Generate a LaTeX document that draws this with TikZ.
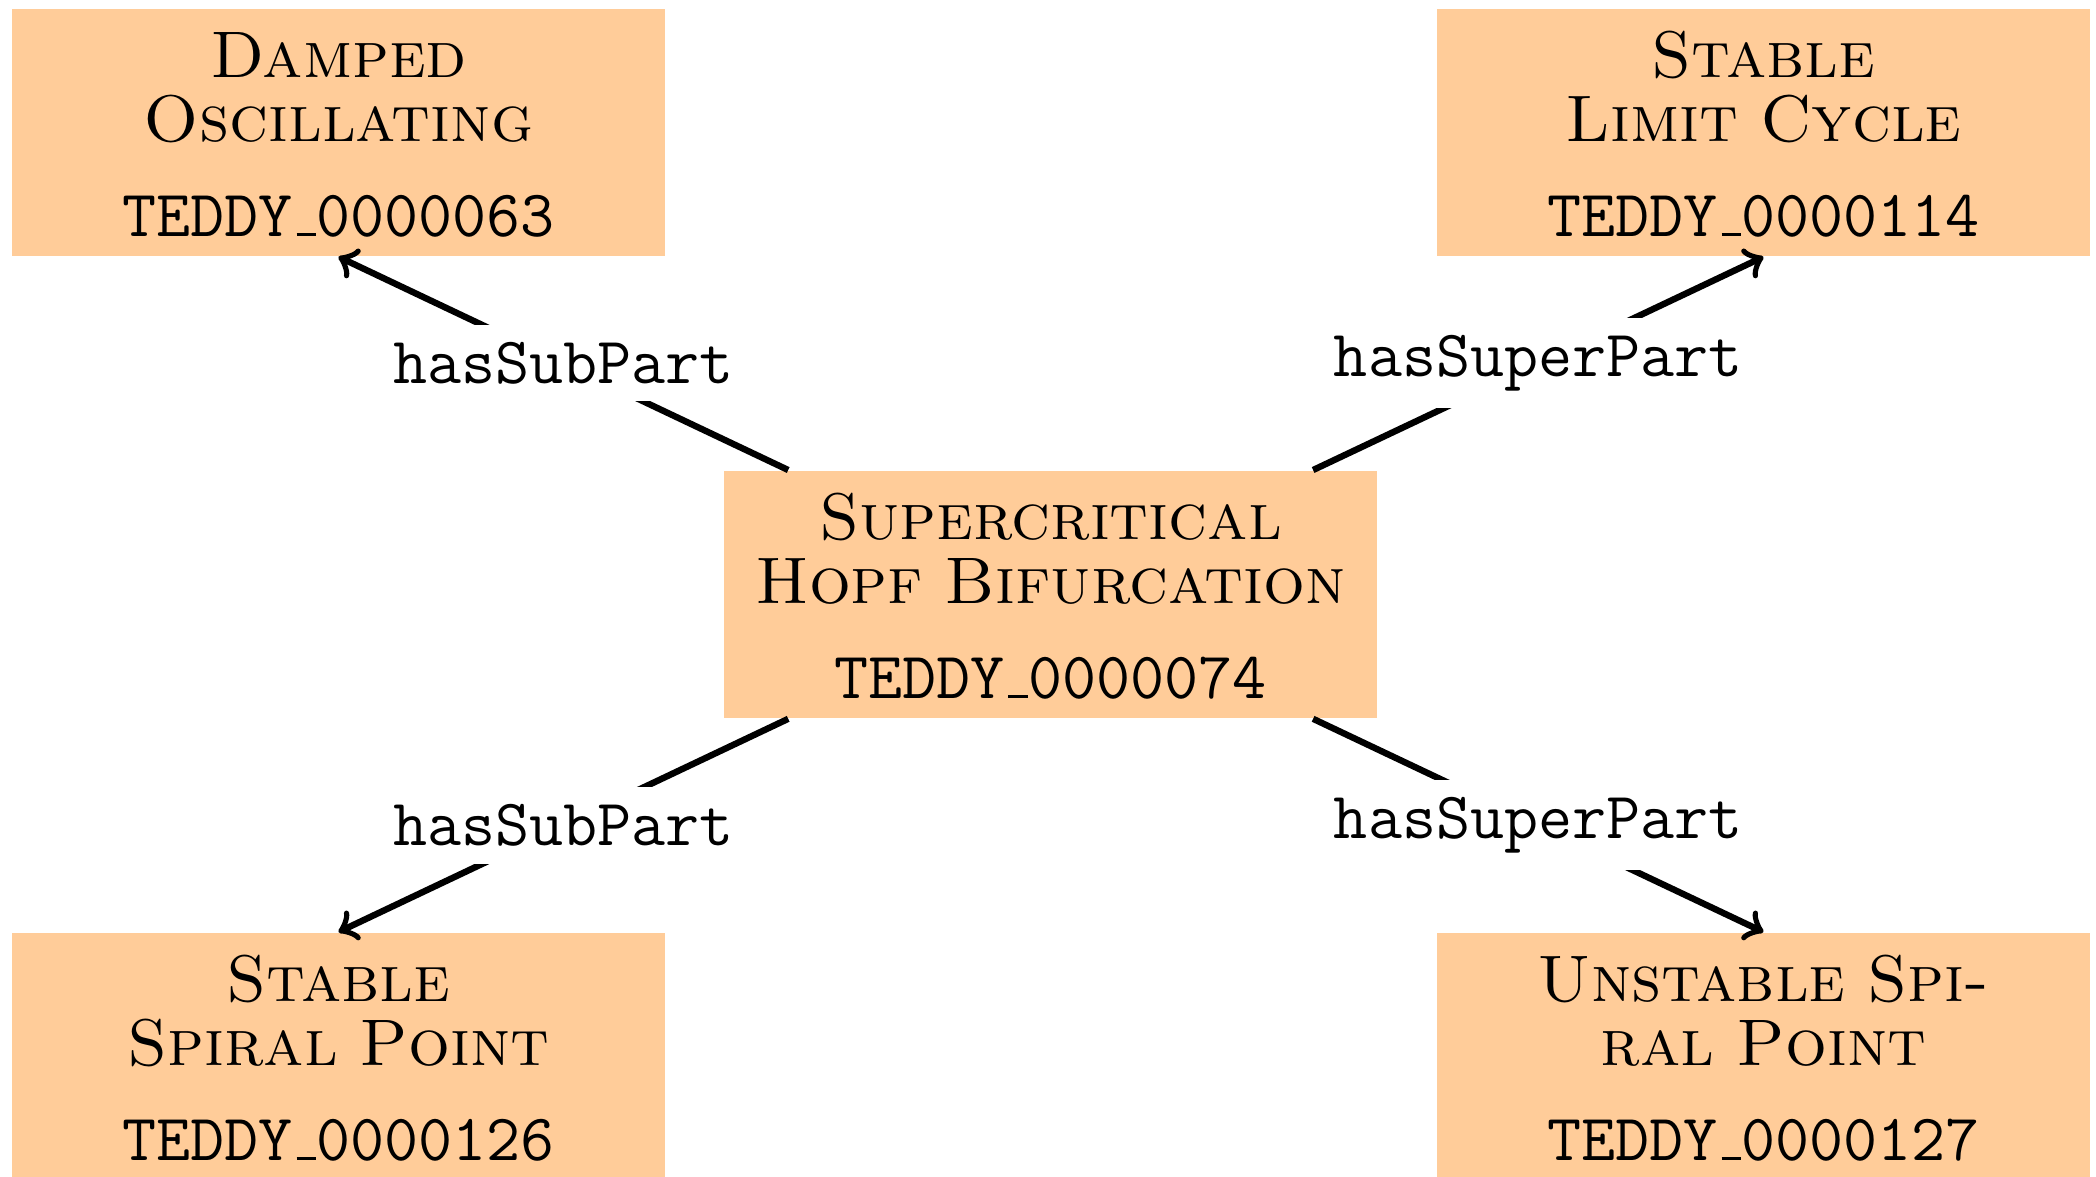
\documentclass[tikz,border=0pt]{standalone}
\definecolor{boxfill}{RGB}{255,204,153}
\tikzset{
  concept/.style={rectangle, fill=boxfill, anchor=north west,
    text width=122.4pt, align=center, inner xsep=0pt, inner ysep=0pt,
    text height=12.75pt, text depth=33.5pt,
    font=\fontsize{12.35}{12}\selectfont\scshape},
  rel/.style={->, very thick},
  lab/.style={fill=white, inner sep=3.2pt,
    font=\fontsize{12.4}{12}\selectfont\ttfamily}
}
\newcommand{\lowbar}{\leavevmode\kern.06em\vbox{\hrule width .3em height .5pt}}
\newcommand{\teddyid}[1]{\\[5.8pt]{\upshape\ttfamily\fontsize{12.4}{12}\selectfont TEDDY\lowbar#1}}
\begin{document}
\begin{tikzpicture}[x=0.1875pt, y=-0.1875pt]
  \useasboundingbox (0,0) rectangle (2096,1176);
  \begin{scope}
    \clip (0,0) rectangle (2096,1176);
    \node[concept] (TL) at (11,8) {Damped\\Oscillating\teddyid{0000063}};
    \node[concept] (TR) at (1436,8) {Stable\\Limit Cycle\teddyid{0000114}};
    \node[concept] (C) at (723,470) {Supercritical\\Hopf Bifurcation\teddyid{0000074}};
    \node[concept] (BL) at (11,932) {Stable\\Spiral Point\teddyid{0000126}};
    \node[concept] (BR) at (1436,932) {Unstable Spi-\\ral Point\teddyid{0000127}};
    \draw[rel] (C) -- node[lab] {hasSubPart} (TL.south);
    \draw[rel] (C) -- node[lab] {hasSuperPart} (TR.south);
    \draw[rel] (C) -- node[lab] {hasSubPart} (BL.north);
    \draw[rel] (C) -- node[lab] {hasSuperPart} (BR.north);
  \end{scope}
\end{tikzpicture}
\end{document}
